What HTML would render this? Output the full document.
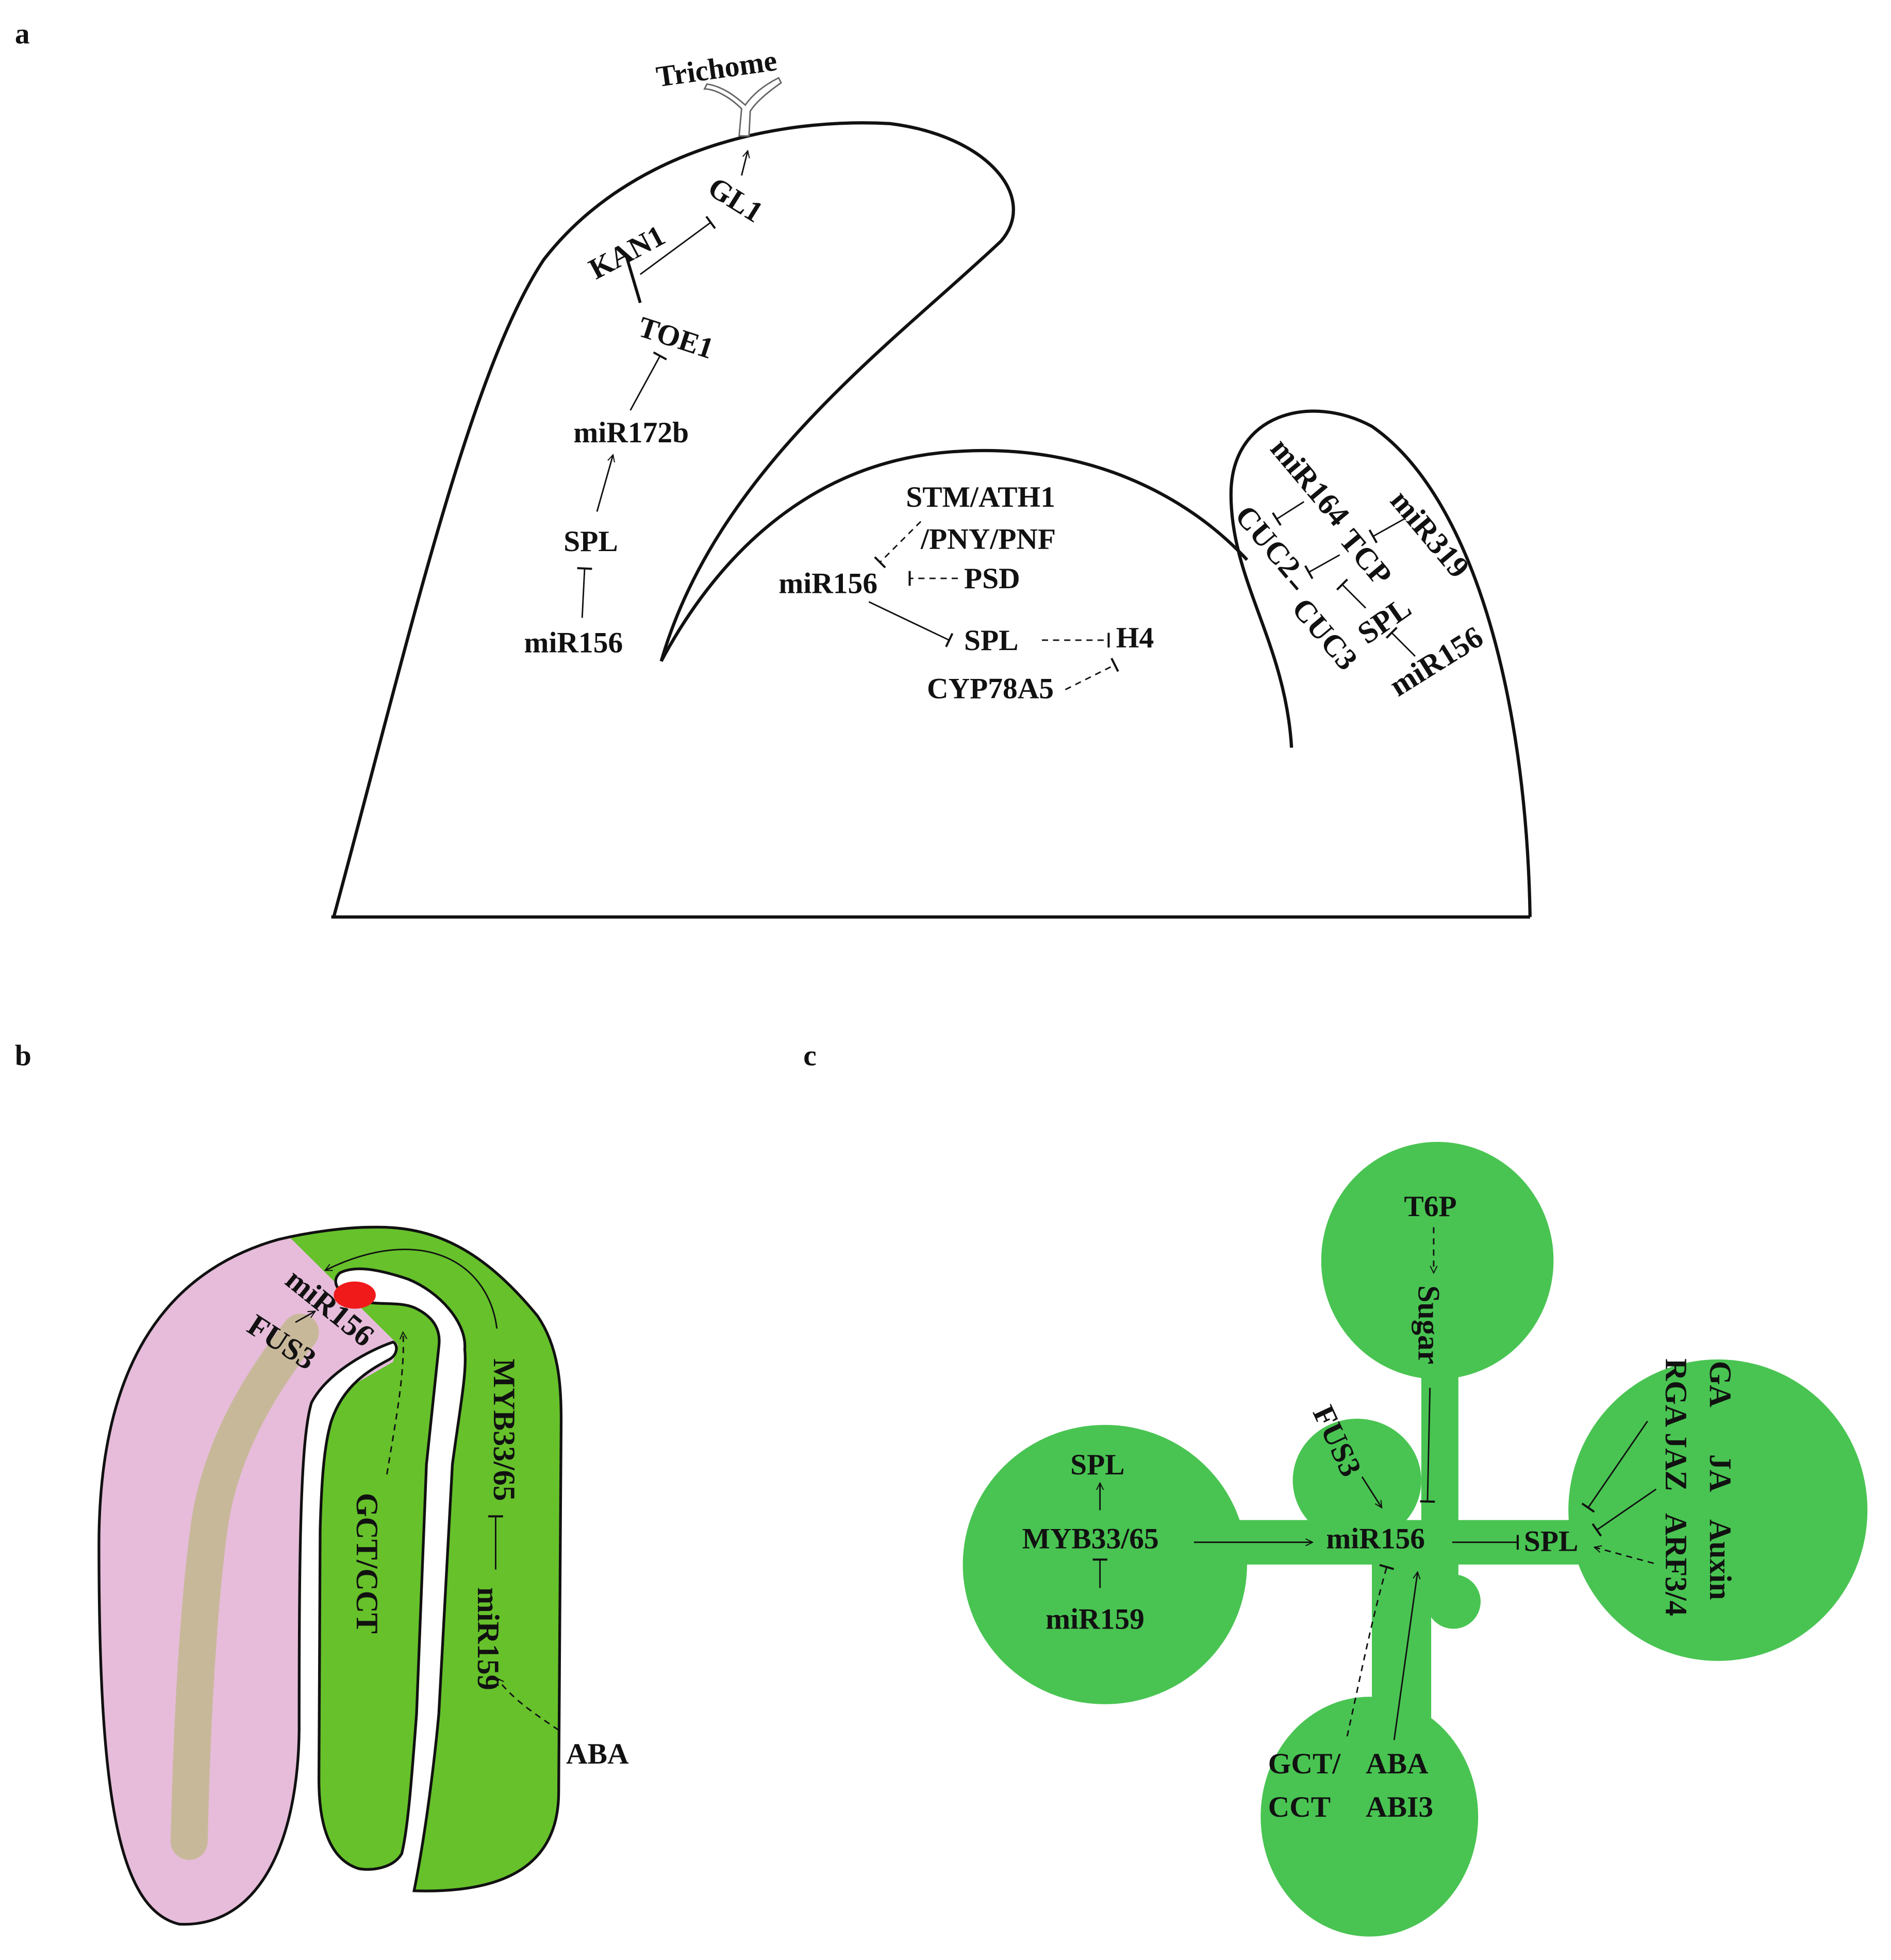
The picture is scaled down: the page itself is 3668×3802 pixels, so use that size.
<!DOCTYPE html>
<html><head><meta charset="utf-8"><style>html,body{margin:0;padding:0;background:#fff}svg{display:block}</style></head>
<body>
<svg xmlns="http://www.w3.org/2000/svg" width="3668" height="3802" viewBox="0 0 1530 1586">
<defs>
<marker id="ar" viewBox="0 0 10 10" refX="9" refY="5" markerWidth="7" markerHeight="7" orient="auto-start-reverse" markerUnits="userSpaceOnUse"><path d="M1,1 L9,5 L1,9" fill="none" stroke="#111" stroke-width="1.2"/></marker>
<marker id="tb" viewBox="0 0 10 10" refX="5" refY="5" markerWidth="12" markerHeight="12" orient="auto" markerUnits="userSpaceOnUse"><path d="M5,0 L5,10" stroke="#111" stroke-width="1.4"/></marker>
<clipPath id="cb"><path id="bshape" d="M145,1557 C95,1545 80,1450 80,1250 C80,1110 130,1030 225,1003 C250,997 280,993 302,993 C350,992 390,1010 435,1065 C452,1090 454,1120 454,1150 L452,1450 C452,1515 400,1532 335,1530 C345,1480 352,1420 355,1387 L366,1185 C372,1140 378,1110 376,1092 C378,1070 355,1045 330,1035 C300,1025 285,1025 275,1030 C268,1036 272,1046 285,1050 C300,1058 320,1052 335,1058 C350,1065 357,1075 355,1090 L345,1185 L337,1387 C333,1440 330,1480 325,1500 C318,1512 300,1514 290,1512 C268,1505 258,1480 258,1440 L259,1238 C260,1200 262,1170 268,1150 C278,1120 300,1108 315,1100 C322,1096 322,1088 318,1086 C300,1092 265,1110 252,1135 C243,1165 242,1250 242,1400 C241,1490 210,1560 145,1557 Z"/></clipPath>
</defs>
<style>
text{font-family:"Liberation Serif",serif;font-weight:bold;fill:#111;font-size:24px}
.l{stroke:#111;stroke-width:1.2;fill:none}
.d{stroke:#111;stroke-width:1.2;fill:none;stroke-dasharray:5,4}
.o{stroke:#111;stroke-width:2.6;fill:none}
.r{font-size:25px;text-anchor:middle;dominant-baseline:central}
</style>
<rect width="1530" height="1586" fill="#fff"/>
<text x="12" y="35" font-size="28">a</text>
<text x="12" y="862" font-size="28">b</text>
<text x="650" y="862" font-size="28">c</text>

<!-- panel a outlines -->
<path class="o" d="M268,742 L1238,742"/>
<path class="o" d="M270,742 C330,520 380,300 440,210 C510,120 630,95 720,100 C800,110 840,160 810,195 C720,280 580,380 535,535 C575,460 650,370 780,365 C880,360 960,400 1009,453"/>
<path class="o" d="M1045,605 C1040,520 996,470 996,400 C996,335 1060,318 1110,345 C1190,400 1235,560 1238,742"/>
<path d="M598,110 L600,88 C590,78 578,72 570,72 L572,68 C585,70 595,78 603,85 C610,75 620,68 630,63 L632,67 C622,74 612,82 607,90 L606,110 Z" fill="#fff" stroke="#666" stroke-width="1.2"/>
<text x="530" y="62" font-size="24" transform="rotate(-8 590 50)">Trichome</text>

<text x="470" y="212" transform="rotate(-28 505 195)">KAN1</text>
<text x="570" y="170" transform="rotate(32 595 165)">GL1</text>
<text x="517" y="282" transform="rotate(18 550 270)">TOE1</text>
<text x="464" y="358">miR172b</text>
<text x="456" y="446">SPL</text>
<text x="424" y="528">miR156</text>
<path class="l" d="M600,142 L605,122" marker-end="url(#ar)"/>
<path class="l" d="M518,222 L575,180" marker-end="url(#tb)"/>
<path d="M507,208 L518,245" stroke="#111" stroke-width="2.4"/>
<path class="l" d="M510,332 L534,288" marker-end="url(#tb)"/>
<path class="l" d="M483,414 L496,368" marker-end="url(#ar)"/>
<path class="l" d="M471,500 L473,460" marker-end="url(#tb)"/>

<text x="733" y="410">STM/ATH1</text>
<text x="745" y="444">/PNY/PNF</text>
<text x="630" y="480">miR156</text>
<text x="780" y="476">PSD</text>
<text x="780" y="526">SPL</text>
<text x="903" y="524" font-size="22">H4</text>
<text x="750" y="565" font-size="22">CYP78A5</text>
<path class="d" d="M745,422 L712,455" marker-end="url(#tb)"/>
<path class="d" d="M775,468 L736,468" marker-end="url(#tb)"/>
<path class="l" d="M703,487 L768,518" marker-end="url(#tb)"/>
<path class="d" d="M843,518 L897,518" marker-end="url(#tb)"/>
<path class="d" d="M862,558 L902,538" marker-end="url(#tb)"/>

<text class="r" x="1060" y="390" transform="rotate(50 1060 390)">miR164</text>
<text class="r" x="1157" y="432" transform="rotate(50 1157 432)">miR319</text>
<text class="r" x="1026" y="438" transform="rotate(50 1026 438)">CUC2</text>
<text class="r" x="1072" y="513" transform="rotate(50 1072 513)">CUC3</text>
<text class="r" x="1105" y="451" transform="rotate(50 1105 451)">TCP</text>
<text class="r" x="1120" y="502" transform="rotate(-35 1120 502)">SPL</text>
<text class="r" x="1162" y="535" transform="rotate(-32 1162 535)">miR156</text>
<path class="l" d="M1055,406 L1033,420" marker-end="url(#tb)"/>
<path class="l" d="M1136,420 L1111,434" marker-end="url(#tb)"/>
<path class="l" d="M1084,449 L1059,463" marker-end="url(#tb)"/>
<path class="l" d="M1105,492 L1086,473" marker-end="url(#tb)"/>
<path class="l" d="M1145,531 L1126,512" marker-end="url(#tb)"/>
<path d="M1044,470 L1050,477" stroke="#111" stroke-width="2.2"/>

<!-- panel b -->
<use href="#bshape" fill="#66c12b"/>
<g clip-path="url(#cb)">
<path d="M0,900 L218,985 L322,1088 L318,1102 L252,1140 L250,1600 L0,1600 Z" fill="#e6bcda"/>
<path d="M243,1078 C210,1120 180,1170 170,1230 C160,1300 155,1400 153,1490" stroke="#c8b89a" stroke-width="30" stroke-linecap="round" fill="none"/>
</g>
<use href="#bshape" fill="none" stroke="#111" stroke-width="2.2"/>
<ellipse cx="287" cy="1048" rx="17" ry="11" fill="#f01a1a"/>
<text class="r" x="267" y="1058" transform="rotate(39 267 1058)">miR156</text>
<text class="r" x="228" y="1086" transform="rotate(33 228 1086)">FUS3</text>
<path class="l" d="M239,1070 L255,1061" marker-end="url(#ar)"/>
<path class="l" d="M402,1075 C395,1020 340,990 263,1028" marker-end="url(#ar)"/>
<path class="d" d="M313,1193 C320,1150 328,1110 326,1078" marker-end="url(#ar)"/>
<text class="r" x="297" y="1265" transform="rotate(90 297 1265)">GCT/CCT</text>
<text class="r" x="408" y="1157" transform="rotate(90 408 1157)">MYB33/65</text>
<text class="r" x="395" y="1326" transform="rotate(90 395 1326)">miR159</text>
<path class="l" d="M401,1270 L401,1227" marker-end="url(#tb)"/>
<path class="d" d="M452,1400 C430,1385 415,1375 402,1358" marker-end="url(#ar)"/>
<text x="458" y="1427">ABA</text>

<!-- panel c -->
<g fill="#49c452">
<ellipse cx="1163" cy="1020" rx="94" ry="96"/>
<ellipse cx="894" cy="1266" rx="115" ry="113"/>
<ellipse cx="1390" cy="1222" rx="121" ry="122"/>
<ellipse cx="1108" cy="1470" rx="88" ry="97"/>
<ellipse cx="1098" cy="1198" rx="52" ry="50"/>
<rect x="1150" y="1080" width="30" height="170"/>
<rect x="985" y="1230" width="300" height="36"/>
<rect x="1110" y="1250" width="48" height="180"/>
<circle cx="1176" cy="1296" r="22"/>
<rect x="1150" y="1262" width="30" height="40"/>
</g>
<text x="1136" y="984">T6P</text>
<path class="d" d="M1160,993 L1160,1030" marker-end="url(#ar)"/>
<text class="r" x="1156" y="1072" transform="rotate(90 1156 1072)">Sugar</text>
<path class="l" d="M1157,1123 L1155,1215" marker-end="url(#tb)"/>
<text class="r" x="1082" y="1166" transform="rotate(65 1082 1166)">FUS3</text>
<path class="l" d="M1102,1195 L1118,1220" marker-end="url(#ar)"/>
<text x="1073" y="1253">miR156</text>
<text x="827" y="1253">MYB33/65</text>
<text x="866" y="1193">SPL</text>
<text x="846" y="1318">miR159</text>
<path class="l" d="M890,1222 L890,1200" marker-end="url(#ar)"/>
<path class="l" d="M890,1285 L890,1262" marker-end="url(#tb)"/>
<path class="l" d="M966,1248 L1062,1248" marker-end="url(#ar)"/>
<path class="l" d="M1175,1248 L1228,1248" marker-end="url(#tb)"/>
<text x="1233" y="1255">SPL</text>
<text class="r" x="1392" y="1120" transform="rotate(90 1392 1120)">GA</text>
<text class="r" x="1392" y="1192" transform="rotate(90 1392 1192)">JA</text>
<text class="r" x="1392" y="1262" transform="rotate(90 1392 1262)">Auxin</text>
<text class="r" x="1356" y="1127" transform="rotate(90 1356 1127)">RGA</text>
<text class="r" x="1356" y="1183" transform="rotate(90 1356 1183)">JAZ</text>
<text class="r" x="1356" y="1266" transform="rotate(90 1356 1266)">ARF3/4</text>
<path class="l" d="M1333,1150 L1285,1220" marker-end="url(#tb)"/>
<path class="l" d="M1340,1205 L1292,1238" marker-end="url(#tb)"/>
<path class="d" d="M1338,1265 L1290,1252" marker-end="url(#ar)"/>
<text x="1026" y="1435">GCT/</text>
<text x="1026" y="1470">CCT</text>
<text x="1105" y="1435">ABA</text>
<text x="1105" y="1470">ABI3</text>
<path class="d" d="M1090,1405 C1100,1360 1110,1310 1122,1268" marker-end="url(#tb)"/>
<path class="l" d="M1128,1408 C1135,1360 1140,1320 1147,1272" marker-end="url(#ar)"/>
</svg>
</body></html>
